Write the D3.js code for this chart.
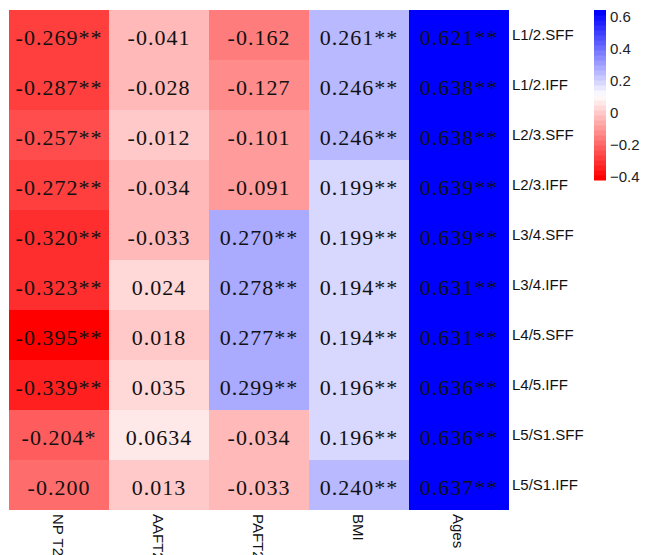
<!DOCTYPE html>
<html>
<head>
<meta charset="utf-8">
<script src="https://cdn.jsdelivr.net/npm/d3@7"></script>
<style>
  body { margin: 0; background: #fff; overflow: hidden; }
</style>
</head>
<body>
<div id="viz"></div>
<script>
// data
var rowNames = ["L1/2.SFF","L1/2.IFF","L2/3.SFF","L2/3.IFF","L3/4.SFF","L3/4.IFF","L4/5.SFF","L4/5.IFF","L5/S1.SFF","L5/S1.IFF"];
var colNames = ["NP T2WI","AAFT2","PAFT2","BMI","Ages"];

var npT2 = ["-0.269**","-0.287**","-0.257**","-0.272**","-0.320**","-0.323**","-0.395**","-0.339**","-0.204*","-0.200"];
var aaft = ["-0.041","-0.028","-0.012","-0.034","-0.033","0.024","0.018","0.035","0.0634","0.013"];
var paft = ["-0.162","-0.127","-0.101","-0.091","0.270**","0.278**","0.277**","0.299**","-0.034","-0.033"];
var bmi  = ["0.261**","0.246**","0.246**","0.199**","0.199**","0.194**","0.194**","0.196**","0.196**","0.240**"];
var ages = ["0.621**","0.638**","0.638**","0.639**","0.639**","0.631**","0.631**","0.636**","0.636**","0.637**"];
var columns = [npT2, aaft, paft, bmi, ages];

var legendTicks = [0.6, 0.4, 0.2, 0, -0.2, -0.4];

const width = 645, height = 555;
var svg = d3.select('#viz').append('svg').attr('width', width).attr('height', height);

// layout
var leftX = 9, topY = 10, cellW = 100, cellH = 50;

var x = d3.scaleBand().domain(colNames).range([leftX, leftX + cellW * colNames.length]);
var y = d3.scaleBand().domain(rowNames).range([topY, topY + cellH * rowNames.length]);

// color: red -> white -> blue, binned like the legend
var lo = -0.42, hi = 0.644, mid = (lo + hi) / 2;
var ramp = d3.scaleLinear().domain([0, 0.5, 1]).range(["#ff0000", "#ffffff", "#0000ff"]);
var nBins = 34;
var color = d3.scaleQuantize().domain([lo, hi])
    .range(d3.range(nBins).map(i => ramp(i / (nBins - 1))));

var cells = [];
columns.forEach(function(col, ci) {
    col.forEach(function(lab, ri) {
        cells.push({col: colNames[ci], row: rowNames[ri], label: lab, value: parseFloat(lab)});
    });
});

var g = svg.append('g');
g.selectAll('rect').data(cells).enter().append('rect')
    .attr('x', d => x(d.col))
    .attr('y', d => y(d.row))
    .attr('width', x.bandwidth())
    .attr('height', y.bandwidth())
    .attr('fill', d => color(d.value));

g.selectAll('text').data(cells).enter().append('text')
    .attr('x', d => x(d.col) + x.bandwidth() / 2)
    .attr('y', d => y(d.row) + y.bandwidth() / 2 + 10)
    .attr('text-anchor', 'middle')
    .attr('font-family', '"Liberation Serif", serif')
    .attr('font-size', 22)
    .attr('letter-spacing', 1)
    .attr('fill', '#111')
    .text(d => d.label);

// row labels
svg.append('g').selectAll('text').data(rowNames).enter().append('text')
    .attr('x', leftX + cellW * colNames.length + 3)
    .attr('y', d => y(d) + y.bandwidth() / 2 + 5)
    .attr('font-family', '"Liberation Sans", Arial, sans-serif')
    .attr('font-size', 15)
    .attr('fill', '#111')
    .text(d => d);

// column labels, rotated
svg.append('g').selectAll('text').data(colNames).enter().append('text')
    .attr('transform', d => 'translate(' + (x(d) + x.bandwidth() / 2 - 6) + ',' + (topY + cellH * rowNames.length + 4) + ') rotate(90)')
    .attr('font-family', '"Liberation Sans", Arial, sans-serif')
    .attr('font-size', 15)
    .attr('fill', '#111')
    .text(d => d);

// legend
var legTop = 10, legBot = 180, legX = 594, legW = 12;
var ly = d3.scaleLinear().domain([lo, hi]).range([legBot, legTop]);
var binW = (hi - lo) / nBins;
var steps = d3.range(nBins).map(i => lo + binW * i);
var lg = svg.append('g');
lg.selectAll('rect').data(steps).enter().append('rect')
    .attr('x', legX)
    .attr('y', d => ly(d + binW))
    .attr('width', legW)
    .attr('height', (legBot - legTop) / nBins + 0.5)
    .attr('fill', d => color(d + binW / 2));

lg.selectAll('text').data(legendTicks).enter().append('text')
    .attr('x', legX + legW + 4)
    .attr('y', d => ly(d) + 5)
    .attr('font-family', '"Liberation Sans", Arial, sans-serif')
    .attr('font-size', 15)
    .attr('fill', '#222')
    .text(d => d === 0 ? '0' : d3.format('.1f')(d).replace('-', '\u2212'));
</script>
</body>
</html>
